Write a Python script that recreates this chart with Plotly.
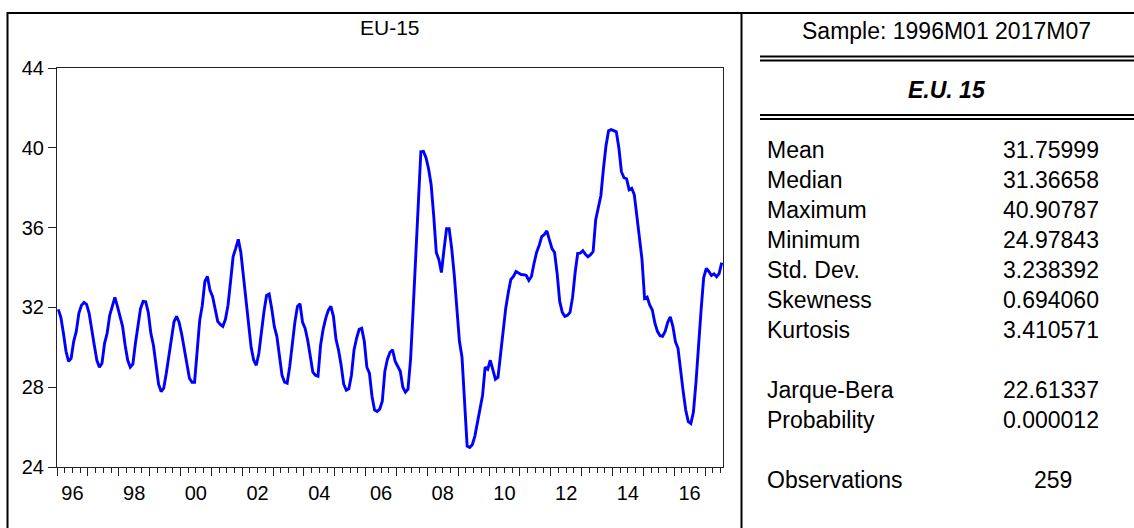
import plotly.graph_objects as go

# Monthly series, 1996M01 .. 2017M07 (259 observations)
start_year = 1996
eu15 = [
    # 1996
    31.90, 31.50, 30.70, 29.80, 29.30, 29.45, 30.30, 30.80, 31.70, 32.10, 32.25, 32.15,
    # 1997
    31.70, 31.00, 30.10, 29.35, 29.00, 29.20, 30.20, 30.70, 31.60, 32.05, 32.50, 32.05,
    # 1998
    31.50, 31.05, 30.10, 29.35, 29.00, 29.15, 30.20, 31.20, 31.95, 32.30, 32.28, 31.75,
    # 1999
    30.70, 30.10, 29.00, 28.15, 27.78, 27.95, 28.70, 29.60, 30.55, 31.28, 31.55, 31.25,
    # 2000
    30.65, 29.90, 29.10, 28.45, 28.25, 28.25, 29.80, 31.35, 32.10, 33.30, 33.55, 32.85,
    # 2001
    32.55, 31.95, 31.30, 31.15, 31.05, 31.40, 32.10, 33.30, 34.55, 34.96, 35.41, 34.75,
    # 2002
    33.55, 32.40, 31.10, 30.00, 29.35, 29.10, 29.70, 30.85, 31.80, 32.60, 32.67, 31.95,
    # 2003
    31.05, 30.55, 29.45, 28.60, 28.25, 28.20, 29.03, 30.15, 31.25, 32.05, 32.18, 31.25,
    # 2004
    30.95, 30.35, 29.65, 28.75, 28.60, 28.55, 30.10, 30.90, 31.45, 31.85, 32.05, 31.55,
    # 2005
    30.40, 29.85, 29.10, 28.15, 27.85, 27.92, 28.60, 29.85, 30.45, 30.90, 30.95, 30.30,
    # 2006
    29.00, 28.70, 27.55, 26.85, 26.78, 26.90, 27.30, 28.80, 29.40, 29.75, 29.87, 29.30,
    # 2007
    29.05, 28.80, 28.00, 27.75, 27.90, 29.40, 31.90, 34.40, 37.40, 39.80, 39.82, 39.50,
    # 2008
    38.95, 38.15, 36.60, 34.75, 34.40, 33.75, 34.90, 35.95, 35.95, 34.95, 33.60, 31.80,
    # 2009
    30.30, 29.50, 27.10, 25.05, 24.97843, 25.12, 25.55, 26.30, 26.95, 27.60, 29.00, 28.90,
    # 2010
    29.35, 28.90, 28.40, 28.50, 29.60, 30.90, 31.95, 32.75, 33.40, 33.55, 33.80, 33.72,
    # 2011
    33.65, 33.64, 33.60, 33.35, 33.55, 34.20, 34.75, 35.10, 35.55, 35.65, 35.84, 35.38,
    # 2012
    34.95, 34.75, 33.70, 32.30, 31.75, 31.55, 31.60, 31.75, 32.50, 33.75, 34.71, 34.72,
    # 2013
    34.84, 34.66, 34.54, 34.64, 34.80, 36.40, 37.00, 37.60, 38.95, 40.10, 40.85, 40.90787,
    # 2014
    40.86, 40.80, 40.00, 38.80, 38.50, 38.45, 37.90, 37.97, 37.65, 36.70, 35.50, 34.40,
    # 2015
    32.45, 32.52, 32.12, 31.87, 31.22, 30.80, 30.58, 30.55, 30.80, 31.25, 31.53, 31.05,
    # 2016
    30.28, 29.95, 28.80, 27.80, 26.86, 26.27, 26.18, 26.75, 28.25, 30.30, 31.90, 33.50,
    # 2017
    33.95, 33.80, 33.60, 33.68, 33.54, 33.70, 34.24,
]

year_labels = ["96", "98", "00", "02", "04", "06", "08", "10", "12", "14", "16"]
y_ticks = [24, 28, 32, 36, 40, 44]

sample_text = "Sample: 1996M01 2017M07"
series_name = "E.U. 15"
stat_labels = ["Mean", "Median", "Maximum", "Minimum", "Std. Dev.", "Skewness",
               "Kurtosis", "", "Jarque-Bera", "Probability", "", "Observations"]
stat_values = ["31.75999", "31.36658", "40.90787", "24.97843", "3.238392", "0.694060",
               "3.410571", "", "22.61337", "0.000012", "", "259"]

# ---- geometry (pixels) ----
W, H = 1134, 528
PL, PR, PT, PB = 57, 723, 68, 467          # plot area box


def px(xp):
    return (xp - PL) / (PR - PL)


def py(yp):
    return (PB - yp) / (PB - PT)


n = len(eu15)
x_dates = [start_year + (i + 0.5) / 12 for i in range(n)]
x_end = start_year + n / 12
label_pos = [start_year + 2 * k + 0.5 for k in range(len(year_labels))]

FONT = "Liberation Sans, Arial, sans-serif"
TICK_SIZE = 20
TABLE_SIZE = 23

fig = go.Figure()
fig.add_trace(go.Scatter(
    x=x_dates, y=eu15, mode="lines",
    line=dict(color="#0000FF", width=2.9),
    hoverinfo="skip", showlegend=False,
))
# carrier for the tick-mark axis
fig.add_trace(go.Scatter(
    x=x_dates, y=eu15, mode="lines", xaxis="x2",
    line=dict(color="rgba(0,0,0,0)", width=0),
    hoverinfo="skip", showlegend=False,
))

fig.update_layout(
    width=W, height=H,
    margin=dict(l=PL, r=W - PR, t=PT, b=H - PB),
    paper_bgcolor="white", plot_bgcolor="white",
    font=dict(family=FONT, color="black"),
    xaxis=dict(
        range=[start_year, x_end], tickmode="array",
        tickvals=label_pos, ticktext=year_labels,
        ticks="outside", ticklen=8, tickcolor="rgba(0,0,0,0)",
        tickfont=dict(size=TICK_SIZE), showgrid=False, zeroline=False,
        showline=True, mirror=True, linecolor="#222", linewidth=1,
    ),
    xaxis2=dict(
        range=[start_year, x_end], overlaying="x", anchor="y", side="bottom",
        tickmode="linear", tick0=start_year, dtick=1,
        ticks="outside", ticklen=8, tickwidth=1, tickcolor="#222",
        showticklabels=False, showgrid=False, zeroline=False, showline=False,
        minor=dict(tickmode="linear", tick0=start_year, dtick=0.25,
                   ticks="outside", ticklen=5, tickwidth=1, tickcolor="#222"),
    ),
    yaxis=dict(
        range=[24, 44], tickmode="array", tickvals=y_ticks,
        ticks="outside", ticklen=8, tickcolor="#222",
        tickfont=dict(size=TICK_SIZE), showgrid=False, zeroline=False,
        showline=True, mirror=True, linecolor="#222", linewidth=1,
    ),
)

annotations = [
    dict(text="EU-15", x=0.5, y=py(27), xref="paper", yref="paper",
         xanchor="center", yanchor="middle", showarrow=False,
         font=dict(size=21)),
    dict(text=sample_text, x=px(946), y=py(31), xref="paper", yref="paper",
         xanchor="center", yanchor="middle", showarrow=False,
         font=dict(size=TABLE_SIZE)),
    dict(text="<b><i>" + series_name + "</i></b>", x=px(947), y=py(90),
         xref="paper", yref="paper", xanchor="center", yanchor="middle",
         showarrow=False, font=dict(size=TABLE_SIZE)),
]
row0, row_step = 150, 30
for k, (lab, val) in enumerate(zip(stat_labels, stat_values)):
    if not lab:
        continue
    yy = py(row0 + k * row_step)
    annotations.append(dict(text=lab, x=px(765), y=yy, xref="paper", yref="paper",
                            xanchor="left", yanchor="middle", showarrow=False,
                            font=dict(size=TABLE_SIZE)))
    if lab == "Observations":
        annotations.append(dict(text=val, x=px(1053), y=yy, xref="paper", yref="paper",
                                xanchor="center", yanchor="middle", showarrow=False,
                                font=dict(size=TABLE_SIZE)))
    else:
        annotations.append(dict(text=val, x=px(1101), y=yy, xref="paper", yref="paper",
                                xanchor="right", yanchor="middle", showarrow=False,
                                font=dict(size=TABLE_SIZE)))
fig.update_layout(annotations=annotations)


def hline(x0, x1, y, w):
    return dict(type="line", xref="paper", yref="paper", x0=px(x0), x1=px(x1),
                y0=py(y), y1=py(y), line=dict(color="black", width=w))


def vline(x, y0, y1, w):
    return dict(type="line", xref="paper", yref="paper", x0=px(x), x1=px(x),
                y0=py(y0), y1=py(y1), line=dict(color="black", width=w))


shapes = [
    hline(7, W + 2, 13, 2),          # outer frame top
    vline(7.5, 12, H + 2, 2),        # outer frame left
    vline(741.5, 12, H + 2, 2),      # divider between graph and table
    hline(760, W + 2, 56.5, 2),      # double rule under sample line
    hline(760, W + 2, 60.5, 2),
    hline(760, W + 2, 115, 2),       # double rule under series name
    hline(760, W + 2, 119, 2),
]
fig.update_layout(shapes=shapes)

fig.write_html("out.html")
